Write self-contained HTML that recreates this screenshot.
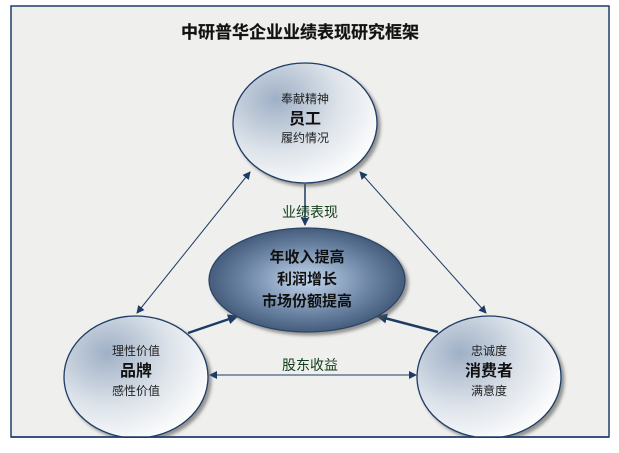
<!DOCTYPE html>
<html><head><meta charset="utf-8"><style>
html,body{margin:0;padding:0;background:#fff;}
body{width:619px;height:448px;overflow:hidden;font-family:"Liberation Sans","Noto Sans CJK SC",sans-serif;}
</style></head><body>
<svg width="619" height="448" viewBox="0 0 619 448" xmlns="http://www.w3.org/2000/svg" font-family="Liberation Sans, Noto Sans CJK SC, sans-serif">
<defs>
<radialGradient id="g1" cx="0.3" cy="0.3" r="0.8">
<stop offset="0" stop-color="#9fb0c6"/><stop offset="0.55" stop-color="#dde3ea"/><stop offset="1" stop-color="#ffffff"/>
</radialGradient>
<radialGradient id="gc" cx="0.5" cy="0.5" r="0.55">
<stop offset="0" stop-color="#c3d7ee"/><stop offset="0.6" stop-color="#6a83a3"/><stop offset="1" stop-color="#3b5170"/>
</radialGradient>
<marker id="a" markerWidth="8" markerHeight="8" refX="7" refY="4" orient="auto" markerUnits="userSpaceOnUse"><path d="M0,0 L8,4 L0,8 z" fill="#1c3c66"/></marker>
<marker id="as" markerWidth="8" markerHeight="8" refX="1" refY="4" orient="auto" markerUnits="userSpaceOnUse"><path d="M8,0 L0,4 L8,8 z" fill="#1c3c66"/></marker>
<marker id="ab" markerWidth="11" markerHeight="10" refX="10" refY="5" orient="auto" markerUnits="userSpaceOnUse"><path d="M0,0 L11,5 L0,10 z" fill="#1c3c66"/></marker>
<filter id="sh" x="-20%" y="-20%" width="150%" height="150%"><feDropShadow dx="3" dy="3" stdDeviation="1.5" flood-color="#555" flood-opacity="0.6"/></filter>
</defs>
<rect x="11" y="6" width="598" height="431" fill="#efefed" stroke="#1f3d6b" stroke-width="1.5"/>
<text x="300" y="38" text-anchor="middle" font-size="17" font-weight="bold" fill="#111" stroke="#333" stroke-width="0.3">中研普华企业业绩表现研究框架</text>
<!-- connectors -->
<line x1="305" y1="184" x2="305" y2="225" stroke="#1c3c66" stroke-width="1.5" marker-end="url(#a)"/>
<line x1="250" y1="172" x2="137" y2="313" stroke="#1c3c66" stroke-width="1" marker-start="url(#as)" marker-end="url(#a)"/>
<line x1="360" y1="172" x2="486" y2="313" stroke="#1c3c66" stroke-width="1" marker-start="url(#as)" marker-end="url(#a)"/>
<line x1="188" y1="333" x2="238" y2="316" stroke="#1c3c66" stroke-width="2.5" marker-end="url(#ab)"/>
<line x1="438" y1="332" x2="377" y2="316" stroke="#1c3c66" stroke-width="2.5" marker-end="url(#ab)"/>
<line x1="210" y1="375" x2="416" y2="375" stroke="#1c3c66" stroke-width="1" marker-start="url(#as)" marker-end="url(#a)"/>
<text x="310" y="217" text-anchor="middle" font-size="14" fill="#123c1a">业绩表现</text>
<text x="310" y="370" text-anchor="middle" font-size="14" fill="#123c1a">股东收益</text>
<!-- nodes -->
<ellipse cx="305" cy="123" rx="72" ry="60" fill="url(#g1)" stroke="#1c3c66" stroke-width="1.3" filter="url(#sh)"/>
<ellipse cx="307" cy="280" rx="98" ry="52" fill="url(#gc)" stroke="#2a4466" stroke-width="1.3" filter="url(#sh)"/>
<ellipse cx="136" cy="377" rx="72" ry="61" fill="url(#g1)" stroke="#1c3c66" stroke-width="1.3" filter="url(#sh)"/>
<ellipse cx="489" cy="377" rx="72" ry="61" fill="url(#g1)" stroke="#1c3c66" stroke-width="1.3" filter="url(#sh)"/>
<rect x="0" y="438" width="619" height="10" fill="#fff"/>
<line x1="11" y1="437" x2="609" y2="437" stroke="#1f3d6b" stroke-width="1.5"/>
<!-- texts -->
<g font-size="12" fill="#222" text-anchor="middle">
<text x="305" y="103">奉献精神</text>
<text x="305" y="142">履约情况</text>
<text x="136" y="355">理性价值</text>
<text x="136" y="395">感性价值</text>
<text x="489" y="355">忠诚度</text>
<text x="489" y="395">满意度</text>
</g>
<g font-size="16" font-weight="bold" fill="#111" text-anchor="middle">
<text x="305" y="124">员工</text>
<text x="136" y="376">品牌</text>
<text x="489" y="376">消费者</text>
</g>
<g font-size="15" font-weight="bold" fill="#111" text-anchor="middle">
<text x="307" y="262">年收入提高</text>
<text x="307" y="284">利润增长</text>
<text x="307" y="306">市场份额提高</text>
</g>
</svg>
</body></html>
